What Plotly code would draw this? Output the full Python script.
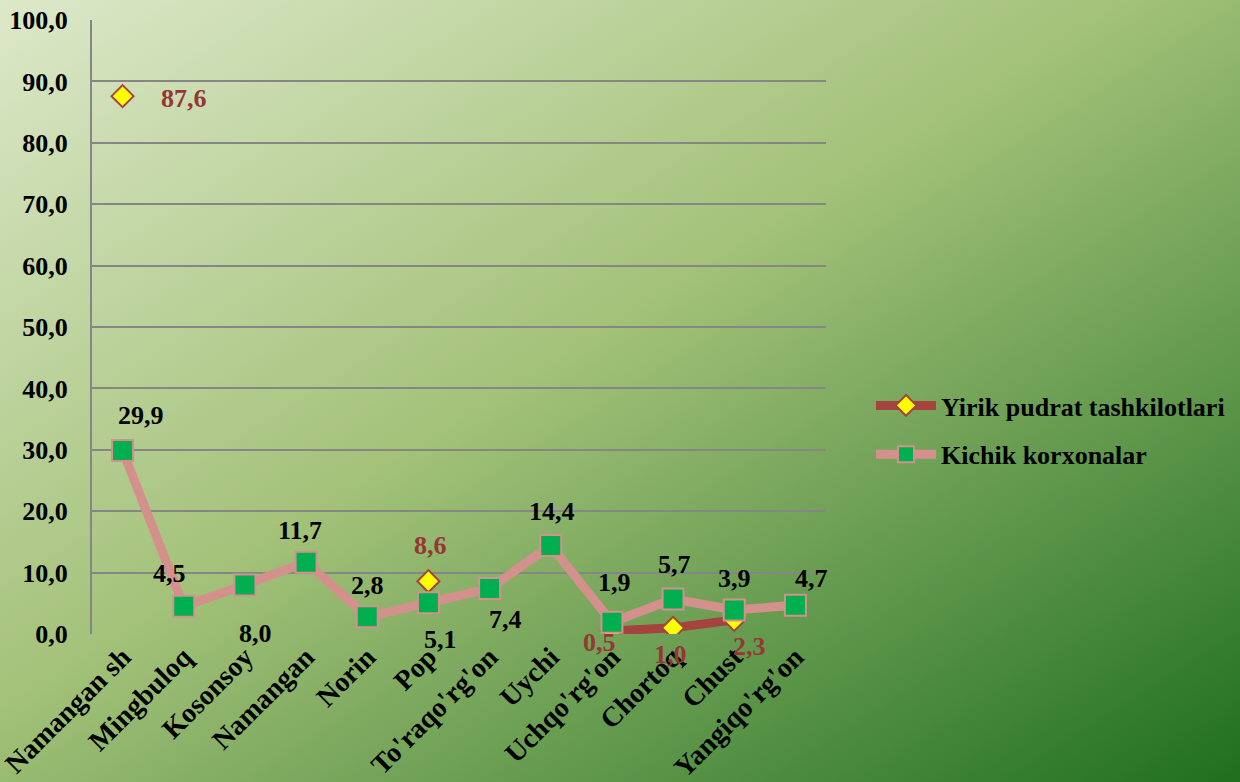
import base64
import plotly.graph_objects as go

# ---- data ----
categories = ["Namangan sh", "Mingbuloq", "Kosonsoy", "Namangan", "Norin", "Pop",
              "To'raqo'rg'on", "Uychi", "Uchqo'rg'on", "Chortoq", "Chust", "Yangiqo'rg'on"]
yirik = [87.6, None, None, None, None, 8.6, None, None, 0.5, 1.0, 2.3, None]
kichik = [29.9, 4.5, 8.0, 11.7, 2.8, 5.1, 7.4, 14.4, 1.9, 5.7, 3.9, 4.7]
y_ticks = [0, 10, 20, 30, 40, 50, 60, 70, 80, 90, 100]
series_names = ["Yirik pudrat tashkilotlari", "Kichik korxonalar"]

# ---- label pixel offsets (styling) ----
kichik_off = [(18, -35), (-14, -33), (11, 49), (-6, -32), (0, -31), (12, 37),
              (16, 31), (1, -34), (3, -40), (1, -35), (0, -32), (16, -27)]
yirik_off = [(61, 2), None, None, None, None, (2, -36), None, None,
             (-12, 12), (-3, 27), (15, 27), None]

W, H = 1240, 782
L, R, T, B = 92, 414, 20, 148
pw, ph = W - L - R, H - T - B

FONT = "Liberation Serif, Times New Roman, serif"
FS = 26

svg = f'''<svg xmlns="http://www.w3.org/2000/svg" width="{W}" height="{H}" viewBox="0 0 {W} {H}" preserveAspectRatio="none">
<defs><linearGradient id="g" x1="0" y1="0" x2="1" y2="1">
<stop offset="0" stop-color="#dde8c9"/>
<stop offset="0.45" stop-color="#a4c27a"/>
<stop offset="1" stop-color="#1f6f1f"/>
</linearGradient></defs>
<rect width="{W}" height="{H}" fill="url(#g)"/></svg>'''
bg = "data:image/svg+xml;base64," + base64.b64encode(svg.encode()).decode()

fig = go.Figure()
fig.add_trace(go.Scatter(
    x=categories, y=yirik, name=series_names[0], mode="lines+markers",
    connectgaps=False, legendgroup="a",
    line=dict(color="#a5433f", width=9),
    marker=dict(symbol="diamond", size=17, color="#ffff00",
                line=dict(color="#a5433f", width=2)),
))
fig.add_trace(go.Scatter(
    x=categories, y=kichik, name=series_names[1], mode="lines+markers",
    legendgroup="b",
    line=dict(color="#d4908d", width=9),
    marker=dict(symbol="square", size=21, color="#00b050",
                line=dict(color="#d4908d", width=2)),
))

ann = []
for c, v, off in zip(categories, kichik, kichik_off):
    ann.append(dict(x=c, y=v, text=f"{v:.1f}".replace(".", ","), showarrow=False,
                    xshift=off[0], yshift=-off[1],
                    font=dict(family=FONT, size=FS, color="black", weight="bold")))
for c, v, off in zip(categories, yirik, yirik_off):
    if v is None:
        continue
    ann.append(dict(x=c, y=v, text=f"{v:.1f}".replace(".", ","), showarrow=False,
                    xshift=off[0], yshift=-off[1],
                    font=dict(family=FONT, size=FS, color="#953735", weight="bold")))

fig.update_layout(
    width=W, height=H,
    margin=dict(l=L, r=R, t=T, b=B, autoexpand=False),
    paper_bgcolor="rgba(0,0,0,0)", plot_bgcolor="rgba(0,0,0,0)",
    images=[dict(source=bg, xref="paper", yref="paper",
                 x=-L / pw, y=1 + T / ph, sizex=W / pw, sizey=H / ph,
                 xanchor="left", yanchor="top", sizing="stretch", layer="below")],
    font=dict(family=FONT, size=FS, color="black", weight="bold"),
    xaxis=dict(type="category", range=[-0.5, 11.5], tickangle=-45,
               showgrid=False, showline=False, zeroline=False, ticks="",
               tickfont=dict(family=FONT, size=28, color="black", weight="bold"),
               automargin=False, ticklabelstandoff=0),
    yaxis=dict(range=[0, 100], tickvals=y_ticks,
               ticktext=[f"{t:.1f}".replace(".", ",") for t in y_ticks],
               showgrid=True, gridcolor="#868686", gridwidth=2,
               showline=True, linecolor="#868686", linewidth=2,
               zeroline=False, ticks="",
               tickfont=dict(family=FONT, size=FS, color="black", weight="bold"),
               automargin=False, ticklabelstandoff=17),
    showlegend=True,
    legend=dict(xref="container", yref="container", x=871 / W, y=1 - 382 / H,
                xanchor="left", yanchor="top", bgcolor="rgba(0,0,0,0)",
                traceorder="grouped", tracegroupgap=12, itemwidth=60,
                font=dict(family=FONT, size=FS, color="black", weight="bold")),
    annotations=ann,
)

fig.write_html("out.html", config={"displayModeBar": False},
               post_script="document.body.style.margin='0';")
